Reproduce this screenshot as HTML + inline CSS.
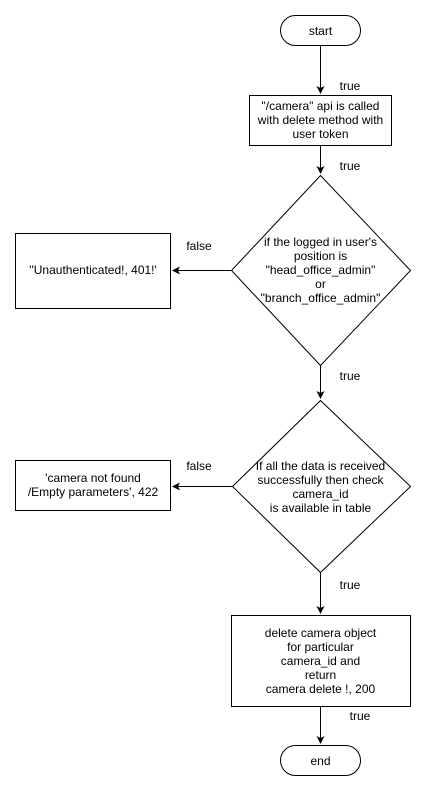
<!DOCTYPE html>
<html><head><meta charset="utf-8"><style>
html,body{margin:0;padding:0;background:#fff;}
svg text{font-family:"Liberation Sans",Arial,sans-serif;font-size:12px;fill:#000;text-anchor:middle;}
</style></head><body>
<svg width="426" height="791" viewBox="0 0 426 791" xmlns="http://www.w3.org/2000/svg">
<defs><marker id="a" markerWidth="10" markerHeight="10" refX="7" refY="4" orient="auto" markerUnits="userSpaceOnUse"><path d="M0,0 L8,4 L0,8 L2,4 z" fill="#000"/></marker></defs>
<g fill="#fff" stroke="#000" stroke-width="1">
<rect x="280.5" y="15.5" width="80" height="30" rx="15"/>
<rect x="249.5" y="95.5" width="142" height="50"/>
<polygon points="320.5,175.5 410.5,270.5 320.5,365.5 231.5,270.5"/>
<rect x="15.5" y="233.5" width="155" height="75"/>
<polygon points="320.5,400.5 410.5,486.5 320.5,572.5 232.5,486.5"/>
<rect x="15.5" y="460.5" width="155" height="50"/>
<rect x="231.5" y="615.5" width="179" height="91"/>
<rect x="280.5" y="745.5" width="80" height="30" rx="15"/>
</g>
<g stroke="#000" stroke-width="1" marker-end="url(#a)">
<line x1="320.5" y1="46" x2="320.5" y2="93"/>
<line x1="320.5" y1="146" x2="320.5" y2="173"/>
<line x1="231" y1="270.5" x2="173" y2="270.5"/>
<line x1="320.5" y1="366" x2="320.5" y2="398"/>
<line x1="232" y1="486.5" x2="173" y2="486.5"/>
<line x1="320.5" y1="573" x2="320.5" y2="613"/>
<line x1="320.5" y1="707" x2="320.5" y2="743"/>
</g>
<text x="320.5" y="35">start</text>
<text x="320.5" y="110">"/camera" api is called</text>
<text x="320.5" y="124">with delete method with</text>
<text x="320.5" y="138">user token</text>
<text x="320.5" y="246">if the logged in user's</text>
<text x="320.5" y="260">position is</text>
<text x="320.5" y="274">"head_office_admin"</text>
<text x="320.5" y="288">or</text>
<text x="320.5" y="302">"branch_office_admin"</text>
<text x="93" y="274">''Unauthenticated!, 401!'</text>
<text x="320.5" y="470">If all the data is received</text>
<text x="320.5" y="484">successfully then check</text>
<text x="320.5" y="498">camera_id</text>
<text x="320.5" y="512">is available in table</text>
<text x="93" y="482">'camera not found</text>
<text x="93" y="496">/Empty parameters', 422</text>
<text x="320.5" y="637">delete camera object</text>
<text x="320.5" y="651">for particular</text>
<text x="320.5" y="665">camera_id and</text>
<text x="320.5" y="679">return</text>
<text x="320.5" y="693">camera delete !, 200</text>
<text x="320.5" y="765">end</text>
<text x="350" y="90">true</text>
<text x="350" y="170">true</text>
<text x="350" y="380">true</text>
<text x="350" y="589">true</text>
<text x="360" y="720">true</text>
<text x="199" y="250">false</text>
<text x="199" y="470">false</text>
</svg>
</body></html>
